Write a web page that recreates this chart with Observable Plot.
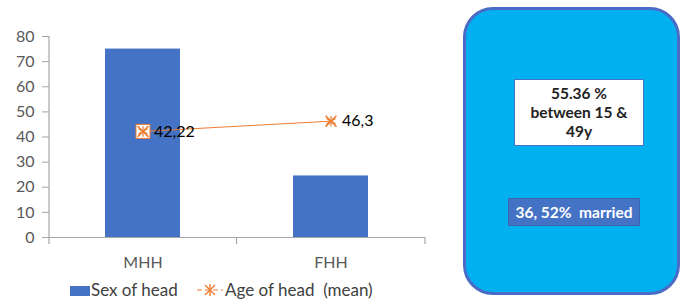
<!DOCTYPE html>
<html><head><meta charset="utf-8">
<script src="https://cdn.jsdelivr.net/npm/d3@7"></script>
<script src="https://cdn.jsdelivr.net/npm/@observablehq/plot@0.6"></script>
<style>
body{margin:0;background:#fff;font-family:Lato,"Open Sans",sans-serif;}
#wrap{position:relative;width:683px;height:302px;overflow:hidden;background:#fff;}
#chart{position:absolute;left:0;top:0;}
.lg{position:absolute;font-size:17px;line-height:18px;color:#404040;white-space:pre;}
#box{position:absolute;left:463px;top:7px;width:217px;height:288px;box-sizing:border-box;border:3px solid #4a6cc6;border-radius:30px;background:#00b0f0;}
#wbox{position:absolute;left:514px;top:79px;width:130px;height:67px;box-sizing:border-box;border:1px solid #4472c4;background:#fff;display:flex;align-items:center;justify-content:center;text-align:center;font-weight:bold;font-size:15.5px;line-height:19px;color:#222;}
#mbox{position:absolute;left:508px;top:198px;width:132px;height:28px;box-sizing:border-box;border:1px solid #3c62b0;background:#4472c4;display:flex;align-items:center;justify-content:center;font-weight:bold;font-size:15.5px;color:#fff;white-space:pre;}
</style></head>
<body>
<div id="wrap">
  <div id="chart"></div>
  <div id="box"></div>
  <div id="wbox"><div id="wtext"></div></div>
  <div id="mbox"></div>
  <div class="lg" style="left:70px;top:286px;width:20px;height:10px;background:#4472c4"></div>
  <div class="lg" id="lg1" style="left:91px;top:281px"></div>
  <svg class="lg" style="left:196px;top:283px" width="28" height="14">
    <line x1="1" y1="7" x2="27" y2="7" stroke="#ED7D31" stroke-width="1" stroke-dasharray="5,3"/>
    <g stroke="#ED7D31" stroke-width="1.4">
      <line x1="9" y1="2" x2="19" y2="12"/><line x1="19" y1="2" x2="9" y2="12"/><line x1="14" y1="1" x2="14" y2="13"/>
    </g>
  </svg>
  <div class="lg" id="lg2" style="left:225px;top:281px"></div>
</div>
<script>
const categories = ["MHH", "FHH"];
const sexOfHead = [75, 24.5];
const ageOfHead = [42.22, 46.3];
const ageLabels = ["42,22", "46,3"];
const yTicks = [0, 10, 20, 30, 40, 50, 60, 70, 80];
const seriesNames = ["Sex of head", "Age of head  (mean)"];
const infoLines = ["55.36 %", "between 15 &", "49y"];
const marriedText = "36, 52%  married";

const data = categories.map((c, i) => ({cat: c, sex: sexOfHead[i], age: ageOfHead[i], label: ageLabels[i], i}));

const plot = Plot.plot({
  width: 683, height: 302,
  marginLeft: 49, marginRight: 258, marginTop: 36, marginBottom: 65,
  style: {fontFamily: "Lato, 'Open Sans', sans-serif", fontSize: "16px", color: "#595959", background: "transparent"},
  x: {domain: categories, paddingInner: 0.6, paddingOuter: 0.3, axis: null},
  y: {domain: [0, 80], axis: null},
  marks: [
    Plot.barY(data, {x: "cat", y: "sex", fill: "#4472C4"}),
    Plot.ruleY([0], {stroke: "#a6a6a6", strokeWidth: 1.2}),
    Plot.axisY({ticks: yTicks, tickSize: 7, tickPadding: 8, stroke: "#a6a6a6", fill: "#595959", fontSize: 16, label: null}),
    Plot.axisX({tickSize: 0, tickPadding: 19, fill: "#595959", fontSize: 16, label: null}),
    Plot.lineY(data, {x: "cat", y: "age", stroke: "#ED7D31", strokeWidth: 1}),
    Plot.dot(data.filter(d => d.i === 0), {x: "cat", y: "age", symbol: "square", r: 7.9, fill: "white", stroke: "#ED7D31", strokeWidth: 1}),
    Plot.dot(data, {x: "cat", y: "age", symbol: "times", r: 5, stroke: "#ED7D31", strokeWidth: 1.5}),
    Plot.dot(data, {x: "cat", y: "age", symbol: "asterisk", r: 5, stroke: "#ED7D31", strokeWidth: 1.2}),
    Plot.text(data, {x: "cat", y: "age", text: "label", dx: 11, textAnchor: "start", fill: "#000", fontSize: 16})
  ]
});
document.getElementById("chart").appendChild(plot);

// axis line and category separator ticks from the scales
const xs = plot.scale("x"), ys = plot.scale("y");
const svg = d3.select(plot);
const x0 = xs.range[0], x1 = xs.range[1];
const yb = ys.apply(0), yt = ys.apply(80);
svg.append("line").attr("x1", x0).attr("x2", x0).attr("y1", yt).attr("y2", yb).attr("stroke", "#a6a6a6").attr("stroke-width", 1.2);
const centers = categories.map(c => xs.apply(c) + xs.bandwidth / 2);
const seps = [x0, (centers[0] + centers[1]) / 2, x1];
svg.append("g").selectAll("line").data(seps).join("line")
  .attr("x1", d => d).attr("x2", d => d).attr("y1", yb).attr("y2", yb + 7)
  .attr("stroke", "#a6a6a6").attr("stroke-width", 1.2);

document.getElementById("lg1").textContent = seriesNames[0];
document.getElementById("lg2").textContent = seriesNames[1];
document.getElementById("wtext").innerHTML = infoLines.join("<br>");
document.getElementById("mbox").textContent = marriedText;
</script>
</body></html>
